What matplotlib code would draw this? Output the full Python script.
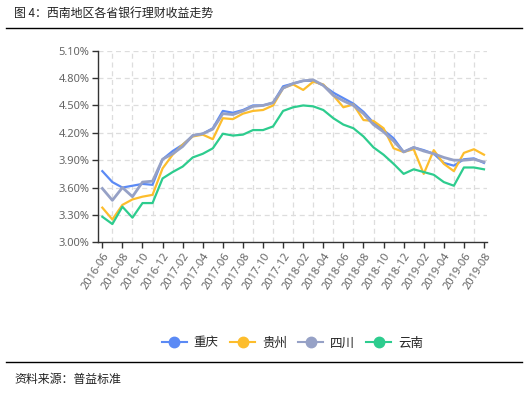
import matplotlib
matplotlib.use("Agg")
import matplotlib.pyplot as plt
from matplotlib.lines import Line2D

plt.rcParams['font.family'] = ['Noto Sans CJK SC', 'DejaVu Sans']

months = ["2016-06","2016-07","2016-08","2016-09","2016-10","2016-11","2016-12",
          "2017-01","2017-02","2017-03","2017-04","2017-05","2017-06","2017-07",
          "2017-08","2017-09","2017-10","2017-11","2017-12","2018-01","2018-02",
          "2018-03","2018-04","2018-05","2018-06","2018-07","2018-08","2018-09",
          "2018-10","2018-11","2018-12","2019-01","2019-02","2019-03","2019-04",
          "2019-05","2019-06","2019-07","2019-08"]

chongqing = [3.78,3.66,3.60,3.62,3.64,3.63,3.91,4.00,4.07,4.17,4.19,4.25,4.44,4.42,
             4.45,4.50,4.50,4.53,4.71,4.74,4.77,4.77,4.72,4.64,4.58,4.52,4.43,4.31,
             4.23,4.14,3.99,4.04,4.01,3.97,3.87,3.84,3.91,3.92,3.87]
guizhou = [3.38,3.25,3.41,3.47,3.50,3.52,3.81,3.96,4.07,4.16,4.18,4.13,4.36,4.35,
           4.41,4.44,4.45,4.50,4.69,4.73,4.67,4.76,4.73,4.61,4.48,4.51,4.34,4.33,
           4.25,4.03,3.99,4.02,3.75,4.01,3.86,3.78,3.98,4.02,3.96]
sichuan = [3.59,3.46,3.60,3.50,3.66,3.67,3.91,3.97,4.05,4.17,4.19,4.24,4.41,4.40,
           4.44,4.49,4.50,4.53,4.69,4.74,4.77,4.78,4.72,4.61,4.55,4.50,4.41,4.29,
           4.21,4.11,3.99,4.04,4.00,3.97,3.93,3.90,3.90,3.91,3.88]
yunnan = [3.28,3.20,3.39,3.27,3.43,3.43,3.70,3.77,3.83,3.93,3.97,4.03,4.19,4.17,
          4.18,4.23,4.23,4.27,4.44,4.48,4.50,4.49,4.45,4.36,4.29,4.25,4.16,4.04,
          3.96,3.86,3.75,3.80,3.77,3.74,3.66,3.62,3.82,3.82,3.80]

series_names = ["重庆", "贵州", "四川", "云南"]
series_vals = [chongqing, guizhou, sichuan, yunnan]
colors = ["#5B8AF5", "#FDBD2C", "#96A1C6", "#2DCC8E"]
yticks = [3.00, 3.30, 3.60, 3.90, 4.20, 4.50, 4.80, 5.10]

W, H = 528, 397
fig = plt.figure(figsize=(W/100, H/100), dpi=100)
ax = fig.add_axes([97.7/W, 1-242.3/H, (487-97.7)/W, (242.3-50.7)/H])

x = list(range(len(months)))
for name, vals, c in zip(series_names, series_vals, colors):
    lw = 2.0 if name == "四川" else 1.6
    ax.plot(x, vals, color=c, lw=lw, label=name, solid_joinstyle='round', zorder=3)

ax.set_ylim(3.00, 5.10)
ax.set_xlim(-0.46, 38.3)
ax.set_yticks(yticks)
ax.set_yticklabels([f"{v:.2f}%" for v in yticks], fontsize=8, color="#666666",
                   family=['Noto Sans', 'DejaVu Sans'])
ax.set_xticks(x[::2])
ax.set_xticklabels(months[::2], rotation=57, ha='right', rotation_mode='anchor',
                   fontsize=8, color="#666666", family=['Noto Sans', 'DejaVu Sans'])

for v in yticks[1:]:
    ax.axhline(v, color="#dddddd", lw=0.9, ls=(0, (4, 3)), zorder=1)
for i in range(1, len(months), 2):
    ax.axvline(i, color="#dddddd", lw=0.9, ls=(0, (4, 3)), zorder=1)

for s in ['top', 'right']:
    ax.spines[s].set_visible(False)
for s in ['left', 'bottom']:
    ax.spines[s].set_color("#333333")
    ax.spines[s].set_linewidth(1.0)
ax.tick_params(axis='both', length=4, width=1.0, color="#333333", pad=2)

# title and rules
fig.text(14/W, 1-13/H, "图 4：西南地区各省银行理财收益走势", fontsize=8.6, color="#222222",
         va='center', ha='left')
fig.add_artist(Line2D([6/W, 522/W], [1-28/H, 1-28/H], color='black', lw=1.0))
fig.add_artist(Line2D([6/W, 522/W], [1-361.5/H, 1-361.5/H], color='black', lw=1.0))
fig.text(14/W, 1-379/H, "资料来源：普益标准", fontsize=8.6, color="#222222",
         va='center', ha='left')

handles = [Line2D([0], [0], color=c, lw=1.5, marker='o', markersize=7.5,
                  markerfacecolor=c, markeredgecolor=c) for c in colors]
leg = fig.legend(handles, series_names, loc='center', ncol=4,
                 bbox_to_anchor=(292.5/W, 1-343/H), frameon=False, fontsize=9,
                 handlelength=2.0, columnspacing=0.9, handletextpad=0.55)
for t in leg.get_texts():
    t.set_color("#222222")

fig.savefig("out.png", dpi=100)
